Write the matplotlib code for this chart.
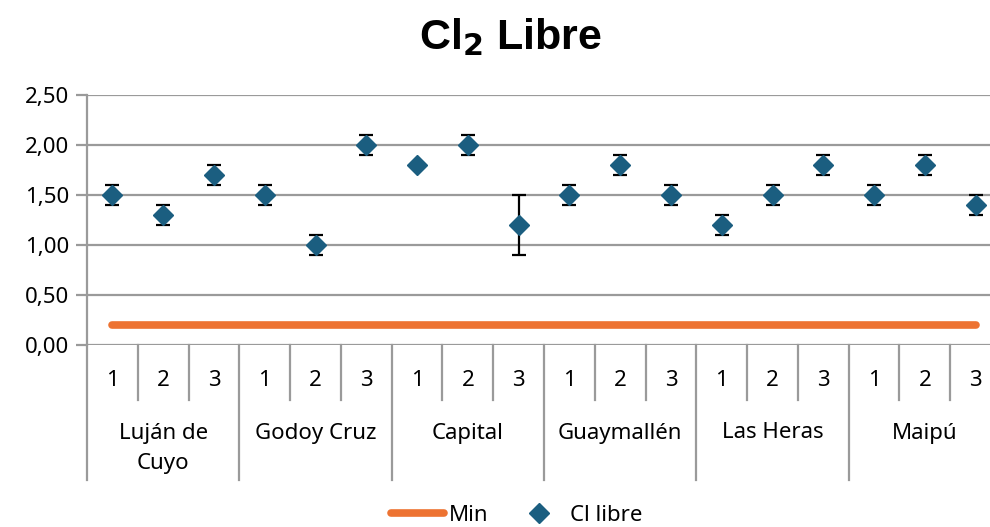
import numpy as np
import matplotlib
matplotlib.use("Agg")
import matplotlib.pyplot as plt
import matplotlib.transforms as mtransforms

# ---------------- datos ----------------
departamentos = ["Luján de\nCuyo", "Godoy Cruz", "Capital", "Guaymallén", "Las Heras", "Maipú"]
muestras = ["1", "2", "3"]
cl_libre = [1.5, 1.3, 1.7, 1.5, 1.0, 2.0, 1.8, 2.0, 1.2, 1.5, 1.8, 1.5, 1.2, 1.5, 1.8, 1.5, 1.8, 1.4]
cl_err = [0.1, 0.1, 0.1, 0.1, 0.1, 0.1, 0.0, 0.1, 0.3, 0.1, 0.1, 0.1, 0.1, 0.1, 0.1, 0.1, 0.1, 0.1]
cl_min = 0.2

plt.rcParams['font.family'] = ['Noto Sans', 'DejaVu Sans']
gris = "#9a9a9a"
azul = "#1b5e80"
naranja = "#ed7332"
fs = 16

n = len(cl_libre)
x = np.arange(n)

fig = plt.figure(figsize=(9.9, 5.27), dpi=100)
ax = fig.add_axes([87/990, 1-345/527, (1001-87)/990, 250/527])

ax.plot([x[0], x[-1]], [cl_min]*2, color=naranja, lw=5.5, solid_capstyle='round', label="Min", zorder=2)
ax.errorbar(x, cl_libre, yerr=cl_err, fmt='none', ecolor='black', elinewidth=1.6, capsize=5, capthick=1.6, zorder=3)
ax.plot(x, cl_libre, 'D', color=azul, ms=10.5, ls='none', label="Cl libre", zorder=4)

ax.set_xlim(-0.5, n-0.5)
ax.set_ylim(0, 2.5)
ax.set_yticks(np.arange(0, 2.51, 0.5))
ax.set_yticklabels([f"{v:.2f}".replace(".", ",") for v in np.arange(0, 2.51, 0.5)], fontsize=fs)
ax.yaxis.grid(True, color=gris, lw=1.6)
ax.set_axisbelow(True)
ax.tick_params(axis='y', length=8, color=gris, width=1.6, pad=5)
ax.set_xticks([])
for s in ["top", "right", "bottom"]:
    ax.spines[s].set_visible(False)
ax.spines["left"].set_color(gris)
ax.spines["left"].set_linewidth(1.6)

# eje de categorias en dos niveles
trans = mtransforms.blended_transform_factory(ax.transData, ax.transAxes)
for i in range(n + 1):
    largo = -0.54 if i % 3 == 0 else -0.22
    ax.plot([i-0.5, i-0.5], [0, largo], color=gris, lw=1.6, transform=trans, clip_on=False)
for i in range(n):
    ax.text(x[i], -0.14, muestras[i % 3], transform=trans, ha='center', va='center', fontsize=fs)
for j, dep in enumerate(departamentos):
    ax.text(3*j + 1, -0.31, dep, transform=trans, ha='center', va='top', fontsize=fs, linespacing=1.6)

fig.text(0.516, 0.93, r"Cl$_\mathbf{2}$ Libre", ha='center', va='center', fontsize=31,
         fontweight='bold', family='Liberation Sans')
fig.legend(loc='center', bbox_to_anchor=(0.522, 0.022), ncol=2, frameon=False, fontsize=fs,
           handlelength=2.4, columnspacing=1.1, handletextpad=0.2)

fig.savefig("out.png", dpi=100)
